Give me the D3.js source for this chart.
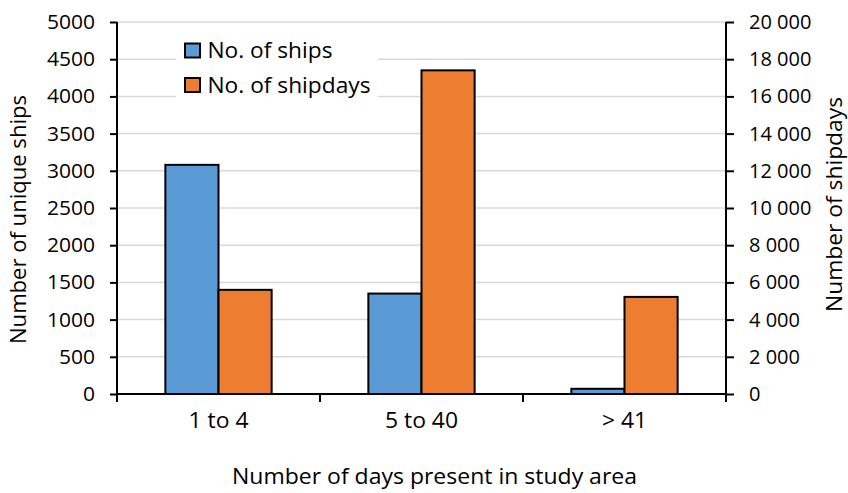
<!DOCTYPE html>
<html>
<head>
<meta charset="utf-8">
<script src="https://cdn.jsdelivr.net/npm/d3@7"></script>
<style>
  html, body { margin: 0; padding: 0; background: #fff; }
  svg { display: block; font-family: "Open Sans", sans-serif; }
</style>
</head>
<body>
<svg id="chart" width="848" height="493"></svg>
<script>
// ---- data ----
const categories = ["1 to 4", "5 to 40", "> 41"];
const ships = [3080, 1350, 70];          // left axis: Number of unique ships
const shipdays = [5600, 17400, 5220];    // right axis: Number of shipdays
const leftTicks = [0, 500, 1000, 1500, 2000, 2500, 3000, 3500, 4000, 4500, 5000];
const rightTicks = [0, 2000, 4000, 6000, 8000, 10000, 12000, 14000, 16000, 18000, 20000];
const seriesNames = ["No. of ships", "No. of shipdays"];
const xTitle = "Number of days present in study area";
const yLeftTitle = "Number of unique ships";
const yRightTitle = "Number of shipdays";

// ---- layout ----
const plot = { left: 117, right: 726, top: 22, bottom: 394 };
const colors = ["#5b9bd5", "#ed7d31"];

const svg = d3.select("#chart");

const x = d3.scaleBand().domain(categories).range([plot.left, plot.right]).paddingInner(0).paddingOuter(0);
const yL = d3.scaleLinear().domain([0, 5000]).range([plot.bottom, plot.top]);
const yR = d3.scaleLinear().domain([0, 20000]).range([plot.bottom, plot.top]);

const fmtRight = v => v === 0 ? "0" : d3.format(",")(v).replace(/,/g, " ");

function stretch(sel, f) {
  sel.each(function () {
    const len = this.getComputedTextLength();
    d3.select(this).attr("textLength", len * f).attr("lengthAdjust", "spacingAndGlyphs");
  });
}
function fitTo(sel, w) {
  sel.attr("textLength", w).attr("lengthAdjust", "spacingAndGlyphs");
}

// gridlines
svg.append("g").selectAll("line")
  .data(leftTicks.filter(d => d > 0))
  .join("line")
  .attr("x1", plot.left).attr("x2", plot.right)
  .attr("y1", d => yL(d)).attr("y2", d => yL(d))
  .attr("stroke", "#d9d9d9").attr("stroke-width", 1.5);

// legend background (covers gridlines)
svg.append("rect")
  .attr("x", 176).attr("y", 33).attr("width", 202).attr("height", 69)
  .attr("fill", "#fff");

// bars
const barW = x.bandwidth() / (2 + 1.82);
const series = [
  { name: seriesNames[0], values: ships, scale: yL, color: colors[0], off: -1 },
  { name: seriesNames[1], values: shipdays, scale: yR, color: colors[1], off: 0 }
];
series.forEach(s => {
  svg.append("g").selectAll("rect")
    .data(categories.map((c, i) => ({ c, v: s.values[i] })))
    .join("rect")
    .attr("x", d => x(d.c) + x.bandwidth() / 2 + s.off * barW)
    .attr("y", d => s.scale(d.v))
    .attr("width", barW)
    .attr("height", d => plot.bottom - s.scale(d.v))
    .attr("fill", s.color)
    .attr("stroke", "#000")
    .attr("stroke-width", 2);
});

// left axis
const gL = svg.append("g").attr("transform", `translate(${plot.left},0)`)
  .call(d3.axisLeft(yL).tickValues(leftTicks).tickSize(7).tickPadding(15).tickFormat(d3.format("d")));
// right axis
const gR = svg.append("g").attr("transform", `translate(${plot.right},0)`)
  .call(d3.axisRight(yR).tickValues(rightTicks).tickSize(8).tickPadding(15).tickFormat(fmtRight));
// bottom axis
const gB = svg.append("g").attr("transform", `translate(0,${plot.bottom})`)
  .call(d3.axisBottom(x).tickSize(0).tickPadding(19));

[gL, gR, gB].forEach(g => {
  g.select(".domain").remove();
  g.selectAll(".tick line").attr("stroke", "#000").attr("stroke-width", 2);
  g.selectAll("text").attr("fill", "#000").attr("font-family", "Open Sans, sans-serif");
});
gL.selectAll("text").attr("font-size", 20);
gR.selectAll("text").attr("font-size", 20);
gB.selectAll("text").attr("font-size", 21);
stretch(gL.selectAll("text"), 1.05);
stretch(gR.selectAll("text"), 1.0);
stretch(gB.selectAll("text"), 1.09);

// category boundary ticks
const bounds = [plot.left, ...categories.map(c => x(c) + x.bandwidth())];
svg.append("g").selectAll("line").data(bounds).join("line")
  .attr("x1", d => d).attr("x2", d => d)
  .attr("y1", plot.bottom).attr("y2", plot.bottom + 8)
  .attr("stroke", "#000").attr("stroke-width", 2);

// axis lines
svg.append("line").attr("x1", plot.left).attr("x2", plot.right)
  .attr("y1", plot.bottom).attr("y2", plot.bottom).attr("stroke", "#000").attr("stroke-width", 2);
svg.append("line").attr("x1", plot.left).attr("x2", plot.left)
  .attr("y1", plot.top).attr("y2", plot.bottom + 8).attr("stroke", "#000").attr("stroke-width", 2);
svg.append("line").attr("x1", plot.right).attr("x2", plot.right)
  .attr("y1", plot.top).attr("y2", plot.bottom + 8).attr("stroke", "#000").attr("stroke-width", 2);

// axis titles
const tB = svg.append("text").attr("x", 434.5).attr("y", 484)
  .attr("text-anchor", "middle").attr("font-size", 22).text(xTitle);
const tL = svg.append("text").attr("transform", "translate(19,219.5) rotate(-90)")
  .attr("text-anchor", "middle").attr("dy", "0.35em").attr("font-size", 21).text(yLeftTitle);
const tR = svg.append("text").attr("transform", "translate(835,204.5) rotate(-90)")
  .attr("text-anchor", "middle").attr("dy", "0.35em").attr("font-size", 21).text(yRightTitle);
fitTo(tB, 405); fitTo(tL, 249); fitTo(tR, 215);

// legend
const leg = svg.append("g");
const legW = [125, 163];
series.forEach((s, i) => {
  const yy = 43.5 + i * 34.5;
  leg.append("rect").attr("x", 185).attr("y", yy).attr("width", 15).attr("height", 14)
    .attr("fill", s.color).attr("stroke", "#000").attr("stroke-width", 2);
  const t = leg.append("text").attr("x", 207.5).attr("y", yy + 14.5)
    .attr("font-size", 21).text(s.name);
  fitTo(t, legW[i]);
});
</script>
</body>
</html>
